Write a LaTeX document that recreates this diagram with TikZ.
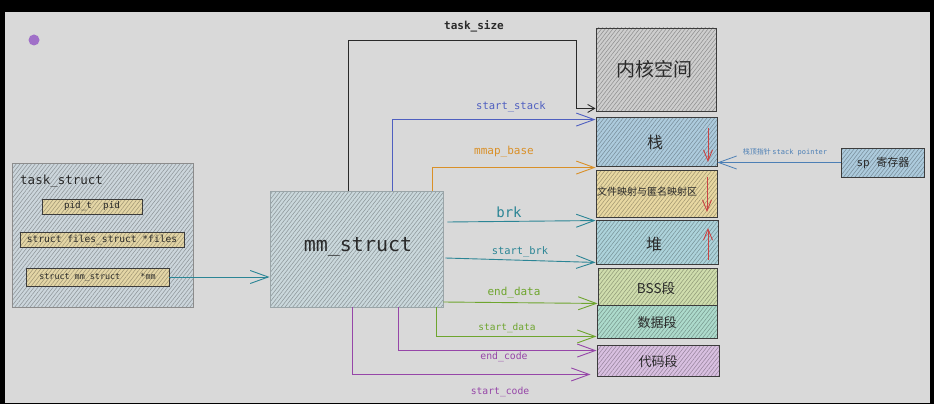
\documentclass[tikz,border=0pt]{standalone}
\usepackage{fontspec}
\setmonofont{DejaVu Sans Mono}
\newfontfamily\cjk{Noto Sans CJK SC}
\usetikzlibrary{arrows.meta,patterns.meta,calc}
\definecolor{bg}{HTML}{D9D9D9}
\definecolor{dotc}{HTML}{A070C8}
\definecolor{tsfill}{HTML}{CCD6DC}
\definecolor{tsdraw}{HTML}{8C8C8C}
\definecolor{tanfill}{HTML}{E4D6A6}
\definecolor{dk}{HTML}{3C3C3C}
\definecolor{mmfill}{HTML}{CAD8DC}
\definecolor{mmdraw}{HTML}{9AA5A8}
\definecolor{kfill}{HTML}{CECECE}
\definecolor{stfill}{HTML}{ADCBDD}
\definecolor{filefill}{HTML}{E8D8A2}
\definecolor{heapfill}{HTML}{ADD3DB}
\definecolor{bssfill}{HTML}{CFDDAD}
\definecolor{datafill}{HTML}{ADDBCC}
\definecolor{codefill}{HTML}{D9C0E1}
\definecolor{cblue}{HTML}{4F5FC0}
\definecolor{corange}{HTML}{D99028}
\definecolor{cteal}{HTML}{2B8595}
\definecolor{cgreen}{HTML}{6EA52E}
\definecolor{cpurple}{HTML}{9646A8}
\definecolor{cink}{HTML}{2A2A2A}
\definecolor{spc}{HTML}{4C7FB5}
\definecolor{cred}{HTML}{C94444}
\tikzset{
  hb/.style 2 args={draw=#2, line width=0.9pt, preaction={fill=#1},
    pattern={Lines[angle=52,distance=3pt,line width=0.55pt]},
    pattern color=#1!70!black, inner sep=0pt},
  conn/.style={line width=0.9pt, -{Straight Barb[length=18pt,width=13pt]}},
  smallconn/.style={line width=0.9pt, -{Straight Barb[length=7pt,width=8pt]}},
  redarr/.style={cred, line width=0.9pt, -{Straight Barb[length=11pt,width=9pt]}},
  mono/.style={font=\ttfamily\fontsize{#1}{#1}\selectfont, inner sep=0pt},
  cj/.style={font=\cjk\fontsize{#1}{#1}\selectfont, inner sep=0pt, text=cink},
}
\begin{document}
\begin{tikzpicture}[x=1pt,y=-1pt]
\useasboundingbox (0,0) rectangle (934,404);
\fill[black] (0,0) rectangle (934,404);
\fill[bg] (5,12) rectangle (930,403);

\node[circle, fill=dotc, minimum size=11, inner sep=0pt] (dot) at (34,40) {};

% task_struct
\node[hb={tsfill}{tsdraw}, minimum width=181, minimum height=144] (task) at (102.5,235) {};
\node[mono=12.5, text=cink, anchor=west] (tasktitle) at (20,181) {task\_struct};
\node[hb={tanfill}{dk}, minimum width=100, minimum height=15, mono=9.3, text=cink] (pid) at (92,206.5) {pid\_t\ \ pid};
\node[hb={tanfill}{dk}, minimum width=164, minimum height=15, mono=9.6, text=cink] (files) at (102,239.5) {struct files\_struct *files};
\node[hb={tanfill}{dk}, minimum width=143, minimum height=18, mono=8.4, text=cink] (mmf) at (97.5,277) {struct mm\_struct\ \ \ \ *mm};

% mm_struct
\node[hb={mmfill}{mmdraw}, minimum width=173, minimum height=116] (mm) at (356.5,249) {};
\node[mono=20, text=cink] (mmtext) at (358,247) {mm\_struct};

% right column
\node[hb={kfill}{dk}, minimum width=120, minimum height=83] (kernel) at (656,69.5) {};
\node[cj=19] (ktext) at (654,69) {内核空间};
\node[hb={stfill}{dk}, minimum width=121, minimum height=49] (stack) at (656.5,141.5) {};
\node[cj=16] (sttext) at (655,142) {栈};
\node[hb={filefill}{dk}, minimum width=121, minimum height=47] (file) at (656.5,193.5) {};
\node[cj=10] (filetext) at (647,192) {文件映射与匿名映射区};
\node[hb={heapfill}{dk}, minimum width=122, minimum height=44] (heap) at (657,242) {};
\node[cj=16] (heaptext) at (654,244) {堆};
\node[hb={bssfill}{dk}, minimum width=119, minimum height=37] (bss) at (657.5,286.5) {};
\node[cj=13.5] (bsstext) at (656,288) {BSS段};
\node[hb={datafill}{dk}, minimum width=120, minimum height=33] (data) at (657,321.5) {};
\node[cj=13] (datatext) at (657,323) {数据段};
\node[hb={codefill}{dk}, minimum width=122, minimum height=31] (code) at (658,360.5) {};
\node[cj=13] (codetext) at (658,362) {代码段};

% sp register
\node[hb={stfill}{dk}, minimum width=83, minimum height=29] (sp) at (882.5,162.5) {};
\node[text=cink, inner sep=0pt] (sptext) at (883,163) {\ttfamily\fontsize{11}{11}\selectfont sp \cjk 寄存器};
\draw[conn, spc, line width=0.8pt] (sp.west) -- (sp.west -| stack.east);
\node[text=spc, inner sep=0pt] (splabel) at (785,152) {\cjk\fontsize{7}{7}\selectfont 栈顶指针 \ttfamily stack pointer};

% red arrows
\coordinate (s1) at (708,128); \coordinate (s2) at (708,162);
\draw[redarr] (s1) -- (s2);
\coordinate (f1) at (707,177); \coordinate (f2) at (707,212);
\draw[redarr] (f1) -- (f2);
\coordinate (h1) at (708,260); \coordinate (h2) at (708,228);
\draw[redarr] (h1) -- (h2);

% task_struct -> mm_struct
\draw[conn, cteal] (mmf.east) -- (mmf.east -| mm.west);

% task_size
\coordinate (tscorner) at (576,40);
\draw[smallconn, cink] ([xshift=-8.5pt]mm.north) |- (tscorner) |- ([yshift=3pt]kernel.south west);
\node[text=cink, inner sep=0pt, font=\ttfamily\bfseries\fontsize{11}{11}\selectfont] (tslabel) at (474,26) {task\_size};

% start_stack
\draw[conn, cblue] ([xshift=35.5pt]mm.north) |- ([yshift=-3pt]stack.north west);
\node[mono=10.5, text=cblue] (sslabel) at (511,107) {start\_stack};

% mmap_base
\draw[conn, corange] ([xshift=76pt]mm.north) |- ([yshift=2pt]file.north west);
\node[mono=11, text=corange] (mblabel) at (504,152) {mmap\_base};

% brk
\draw[conn, cteal] ([xshift=4pt,yshift=27pt]mm.east) -- ([yshift=-1pt]heap.north west);
\node[mono=14, text=cteal] (brklabel) at (509,212) {brk};

% start_brk
\draw[conn, cteal] ([xshift=2pt,yshift=-9pt]mm.east) -- ([yshift=2pt]heap.south west);
\node[mono=10.4, text=cteal] (sblabel) at (520,251.5) {start\_brk};

% end_data
\draw[conn, cgreen] ([yshift=-53pt]mm.east) -- ([yshift=2pt]bss.south west);
\node[mono=11, text=cgreen] (edlabel) at (514,293) {end\_data};

% start_data
\draw[conn, cgreen] ([xshift=-7pt]mm.south east) |- ([yshift=2pt]data.south west);
\node[mono=9.5, text=cgreen] (sdlabel) at (507,328) {start\_data};

% end_code
\draw[conn, cpurple] ([xshift=41.5pt]mm.south) |- ([yshift=-6pt]code.north west);
\node[mono=9.8, text=cpurple] (eclabel) at (504,357) {end\_code};

% start_code
\draw[conn, cpurple] ([xshift=-4.5pt]mm.south) |- ([xshift=-6pt,yshift=2pt]code.south west);
\node[mono=9.7, text=cpurple] (sclabel) at (500,391.5) {start\_code};
\end{tikzpicture}
\end{document}
